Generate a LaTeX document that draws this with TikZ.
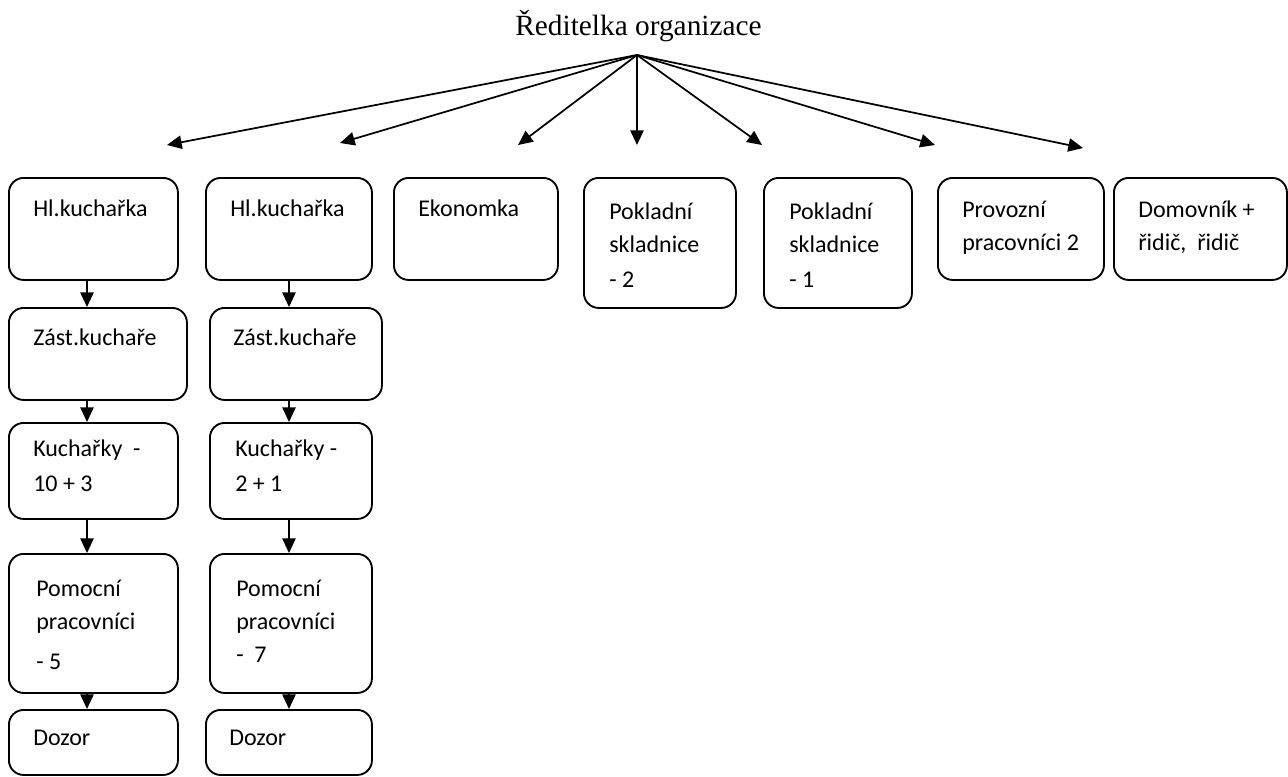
\documentclass[tikz,border=0pt]{standalone}
\usepackage{fontspec}
\newfontfamily\carlito{Carlito}
\newfontfamily\timesfont{Liberation Serif}
\usetikzlibrary{arrows.meta}
\tikzset{
  box/.style={draw, line width=1.4pt, rounded corners=11pt, anchor=north west, inner sep=0pt},
  lbl/.style={anchor=north west, align=left, inner sep=0pt, font=\carlito\fontsize{18}{24.75}\selectfont, execute at begin node=\strut},
  arr/.style={line width=1.3pt, -{Triangle[length=11pt,width=10pt]}}
}
\begin{document}
\begin{tikzpicture}[x=0.75pt,y=-0.75pt]
   \useasboundingbox (0,0) rectangle (1288,776);
   % director and the fan of arrows
   \node[font=\timesfont\fontsize{22}{27}\selectfont, anchor=base, inner sep=0pt] (dir) at (638.5,35) {Ředitelka organizace};
   \coordinate (apex) at (637,55);
   \coordinate (t1) at (167,145);
   \coordinate (t2) at (340,143);
   \coordinate (t3) at (518,145);
   \coordinate (t4) at (637,145);
   \coordinate (t5) at (762,145);
   \coordinate (t6) at (935,145);
   \coordinate (t7) at (1083,148);
   \draw[arr] (apex) -- (t1);
   \draw[arr] (apex) -- (t2);
   \draw[arr] (apex) -- (t3);
   \draw[arr] (apex) -- (t4);
   \draw[arr] (apex) -- (t5);
   \draw[arr] (apex) -- (t6);
   \draw[arr] (apex) -- (t7);
   % first kitchen column
   \node[box, minimum width=126.75pt, minimum height=76.5pt] (a1) at (8,177) {};
   \node[box, minimum width=133.5pt, minimum height=69pt] (a2) at (8,307) {};
   \node[box, minimum width=126.75pt, minimum height=72pt] (a3) at (8,422) {};
   \node[box, minimum width=126.75pt, minimum height=104.25pt] (a4) at (8,553) {};
   \node[box, minimum width=126.75pt, minimum height=48.75pt] (a5) at (8,709) {};
   \node[lbl] (a1t) at (33,193) {Hl.kuchařka};
   \node[lbl] (a2t) at (33,322) {Zást.kuchaře};
   \node[lbl] (a3t) at (33,440) {Kuchařky~~-\\[1pt]10 + 3};
   \node[lbl] (a4t) at (36,580) {Pomocní\\pracovníci\\[5pt]- 5};
   \node[lbl] (a5t) at (33,722) {Dozor};
   \coordinate (ca) at (87,0);
   \draw[arr] (a1.south -| ca) -- (a2.north -| ca);
   \draw[arr] (a2.south -| ca) -- (a3.north -| ca);
   \draw[arr] (a3.south -| ca) -- (a4.north -| ca);
   \draw[arr] (a4.south -| ca) -- (a5.north -| ca);
   % second kitchen column
   \node[box, minimum width=124.5pt, minimum height=76.5pt] (b1) at (205,177) {};
   \node[box, minimum width=129pt, minimum height=69pt] (b2) at (209,307) {};
   \node[box, minimum width=121.5pt, minimum height=72pt] (b3) at (209,422) {};
   \node[box, minimum width=121.5pt, minimum height=104.25pt] (b4) at (209,553) {};
   \node[box, minimum width=124.5pt, minimum height=48.75pt] (b5) at (205,709) {};
   \node[lbl] (b1t) at (230,193) {Hl.kuchařka};
   \node[lbl] (b2t) at (233,322) {Zást.kuchaře};
   \node[lbl] (b3t) at (235,440) {Kuchařky -\\[1pt]2 + 1};
   \node[lbl] (b4t) at (236,580) {Pomocní\\pracovníci\\-~~7};
   \node[lbl] (b5t) at (229,722) {Dozor};
   \coordinate (cb) at (289,0);
   \draw[arr] (b1.south -| cb) -- (b2.north -| cb);
   \draw[arr] (b2.south -| cb) -- (b3.north -| cb);
   \draw[arr] (b3.south -| cb) -- (b4.north -| cb);
   \draw[arr] (b4.south -| cb) -- (b5.north -| cb);
   % other staff
   \node[box, minimum width=123pt, minimum height=76.5pt] (eko) at (393,177) {};
   \node[box, minimum width=114pt, minimum height=97.5pt] (pok2) at (583,177) {};
   \node[box, minimum width=111pt, minimum height=97.5pt] (pok1) at (763,177) {};
   \node[box, minimum width=124.5pt, minimum height=76.5pt] (prov) at (937,177) {};
   \node[box, minimum width=129.75pt, minimum height=76.5pt] (dom) at (1113,177) {};
   \node[lbl] (ekot) at (418,193) {Ekonomka};
   \node[lbl] (pok2t) at (609,203) {Pokladní\\skladnice\\[1pt]- 2};
   \node[lbl] (pok1t) at (789,203) {Pokladní\\skladnice\\[1pt]- 1};
   \node[lbl] (provt) at (962,201) {Provozní\\pracovníci 2};
   \node[lbl] (domt) at (1138,201) {Domovník +\\řidič,~~řidič};
\end{tikzpicture}
\end{document}
